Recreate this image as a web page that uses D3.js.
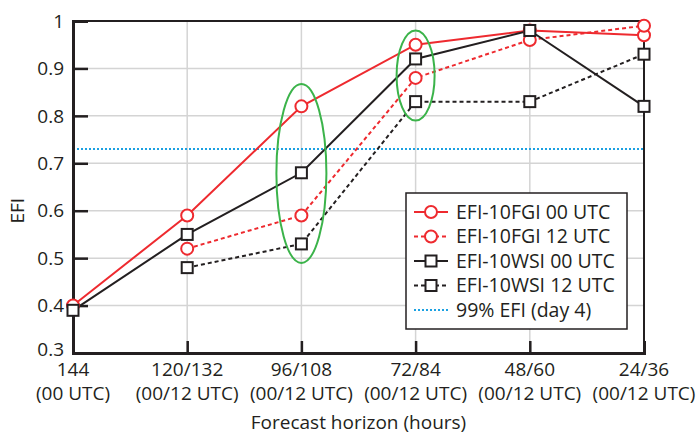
<!DOCTYPE html>
<html lang="en">
<head>
<meta charset="utf-8">
<script src="https://cdn.jsdelivr.net/npm/d3@7"></script>
<style>
body { margin: 0; background: #fff; }
svg { font-family: "Open Sans", "Noto Sans", sans-serif; }
.grid line { stroke: #d4d4d4; stroke-width: 1.5; }
.tick-label { fill: #231f20; font-size: 19px; }
.legend text { fill: #231f20; font-size: 19.5px; }
</style>
</head>
<body>
<div id="chart"></div>
<script>
var categories = ["144", "120/132", "96/108", "72/84", "48/60", "24/36"];
var subLabels = ["(00 UTC)", "(00/12 UTC)", "(00/12 UTC)", "(00/12 UTC)", "(00/12 UTC)", "(00/12 UTC)"];
var yTicks = [0.3, 0.4, 0.5, 0.6, 0.7, 0.8, 0.9, 1];

var fgi00 = [0.40, 0.59, 0.82, 0.95, 0.98, 0.97];
var fgi12 = [null, 0.52, 0.59, 0.88, 0.96, 0.99];
var wsi00 = [0.39, 0.55, 0.68, 0.92, 0.98, 0.82];
var wsi12 = [null, 0.48, 0.53, 0.83, 0.83, 0.93];
var efi99 = 0.73;

// green highlight ellipses: category, low, high
var highlights = [
    {cat: "96/108", lo: 0.49, hi: 0.867, halfWidth: 25},
    {cat: "72/84", lo: 0.79, hi: 0.98, halfWidth: 19}
];

var series = [
    {name: "EFI-10FGI 00 UTC", values: fgi00, color: "#ee2a2f", dash: null, shape: "circle"},
    {name: "EFI-10FGI 12 UTC", values: fgi12, color: "#ee2a2f", dash: "4,3", shape: "circle"},
    {name: "EFI-10WSI 00 UTC", values: wsi00, color: "#231f20", dash: null, shape: "square"},
    {name: "EFI-10WSI 12 UTC", values: wsi12, color: "#231f20", dash: "4,3", shape: "square"}
];

var width = 698, height = 434,
    margin = {top: 21, right: 54, bottom: 81, left: 73};

var x = d3.scalePoint()
    .domain(categories)
    .range([margin.left, width - margin.right]);

var y = d3.scaleLinear()
    .domain([0.3, 1])
    .range([height - margin.bottom, margin.top]);

var svg = d3.select("#chart").append("svg")
    .attr("width", width)
    .attr("height", height);

// grid
var grid = svg.append("g").attr("class", "grid");
grid.selectAll(".gy").data(yTicks.slice(1, -1)).enter().append("line")
    .attr("x1", margin.left).attr("x2", width - margin.right)
    .attr("y1", function (d) { return y(d); }).attr("y2", function (d) { return y(d); });
grid.selectAll(".gx").data(categories.slice(1, -1)).enter().append("line")
    .attr("x1", function (d) { return x(d); }).attr("x2", function (d) { return x(d); })
    .attr("y1", margin.top).attr("y2", height - margin.bottom);

// 99% EFI line
svg.append("line")
    .attr("x1", margin.left).attr("x2", width - margin.right)
    .attr("y1", y(efi99)).attr("y2", y(efi99))
    .attr("stroke", "#1ba1e2").attr("stroke-width", 2)
    .attr("stroke-dasharray", "2,2");

// frame
svg.append("line").attr("x1", margin.left).attr("x2", width - margin.right)
    .attr("y1", margin.top).attr("y2", margin.top)
    .attr("stroke", "#231f20").attr("stroke-width", 2);
svg.append("line").attr("x1", width - margin.right).attr("x2", width - margin.right)
    .attr("y1", margin.top).attr("y2", height - margin.bottom)
    .attr("stroke", "#231f20").attr("stroke-width", 2);

// y axis
var yAxis = svg.append("g")
    .attr("transform", "translate(" + margin.left + ",0)")
    .call(d3.axisRight(y).tickValues(yTicks).tickSize(15).tickFormat(""));
yAxis.select(".domain").attr("stroke", "#231f20").attr("stroke-width", 3);
yAxis.selectAll(".tick line").attr("stroke", "#231f20").attr("stroke-width", 2.5);
yAxis.selectAll(".tick").filter(function (d) { return d === 0.3 || d === 1; }).select("line").remove();

svg.selectAll(".ylab").data(yTicks).enter().append("text")
    .attr("class", "tick-label")
    .attr("x", margin.left - 9)
    .attr("y", function (d) { return y(d) - (d === 0.3 ? 4 : 0); })
    .attr("dy", "0.35em")
    .attr("text-anchor", "end")
    .text(function (d) { return d === 1 ? "1" : d3.format(".1f")(d); });

// x axis
var xAxis = svg.append("g")
    .attr("transform", "translate(0," + (height - margin.bottom) + ")")
    .call(d3.axisTop(x).tickSize(12).tickFormat(""));
xAxis.select(".domain").attr("stroke", "#231f20").attr("stroke-width", 3);
xAxis.selectAll(".tick line").attr("stroke", "#231f20").attr("stroke-width", 2.5);
xAxis.selectAll(".tick").filter(function (d, i) { return i === 0 || i === categories.length - 1; }).select("line").remove();

svg.selectAll(".xlab").data(categories).enter().append("text")
    .attr("class", "tick-label")
    .attr("x", function (d) { return x(d); })
    .attr("y", height - margin.bottom + 23)
    .attr("text-anchor", "middle")
    .text(function (d) { return d; });
svg.selectAll(".xlab2").data(categories).enter().append("text")
    .attr("class", "tick-label")
    .attr("x", function (d) { return x(d); })
    .attr("y", height - margin.bottom + 47)
    .attr("text-anchor", "middle")
    .text(function (d, i) { return subLabels[i]; });

svg.append("text")
    .attr("class", "tick-label")
    .attr("x", (margin.left + width - margin.right) / 2)
    .attr("y", height - 5)
    .attr("text-anchor", "middle")
    .text("Forecast horizon (hours)");

svg.append("text")
    .attr("class", "tick-label")
    .attr("transform", "translate(24," + y(0.6) + ") rotate(-90)")
    .attr("text-anchor", "middle")
    .text("EFI");

// series lines
var line = d3.line()
    .defined(function (d) { return d.v != null; })
    .x(function (d) { return x(d.c); })
    .y(function (d) { return y(d.v); });

function pts(s) {
    return s.values.map(function (v, i) { return {c: categories[i], v: v}; });
}

series.forEach(function (s) {
    svg.append("path")
        .datum(pts(s))
        .attr("fill", "none")
        .attr("stroke", s.color)
        .attr("stroke-width", 2)
        .attr("stroke-dasharray", s.dash)
        .attr("d", line);
});

function drawMarker(g, s, cx, cy) {
    if (s.shape === "circle") {
        g.append("circle").attr("cx", cx).attr("cy", cy).attr("r", 6)
            .attr("fill", "#fff").attr("stroke", s.color).attr("stroke-width", 2);
    } else {
        g.append("rect").attr("x", cx - 5.5).attr("y", cy - 5.5)
            .attr("width", 11).attr("height", 11)
            .attr("fill", "#fff").attr("stroke", s.color).attr("stroke-width", 2);
    }
}

series.forEach(function (s) {
    var g = svg.append("g");
    pts(s).filter(function (d) { return d.v != null; }).forEach(function (d) {
        drawMarker(g, s, x(d.c), y(d.v));
    });
});

// ellipses
svg.selectAll(".hl").data(highlights).enter().append("ellipse")
    .attr("cx", function (d) { return x(d.cat); })
    .attr("cy", function (d) { return (y(d.lo) + y(d.hi)) / 2; })
    .attr("rx", function (d) { return d.halfWidth; })
    .attr("ry", function (d) { return (y(d.lo) - y(d.hi)) / 2; })
    .attr("fill", "none")
    .attr("stroke", "#3bb34a")
    .attr("stroke-width", 2);

// legend
var legend = svg.append("g").attr("class", "legend")
    .attr("transform", "translate(406,193)");
legend.append("rect")
    .attr("width", 221).attr("height", 136)
    .attr("fill", "#fff").attr("stroke", "#231f20").attr("stroke-width", 1.5);

var legendItems = series.concat([{name: "99% EFI (day 4)", color: "#1ba1e2", dash: "2,2", shape: null}]);
legendItems.forEach(function (s, i) {
    var row = legend.append("g").attr("transform", "translate(0," + (19 + i * 24.5) + ")");
    row.append("line")
        .attr("x1", 8).attr("x2", 42)
        .attr("stroke", s.color).attr("stroke-width", 2)
        .attr("stroke-dasharray", s.dash);
    if (s.shape) drawMarker(row, s, 25, 0);
    row.append("text").attr("x", 50).attr("dy", "0.35em").text(s.name);
});
</script>
</body>
</html>
